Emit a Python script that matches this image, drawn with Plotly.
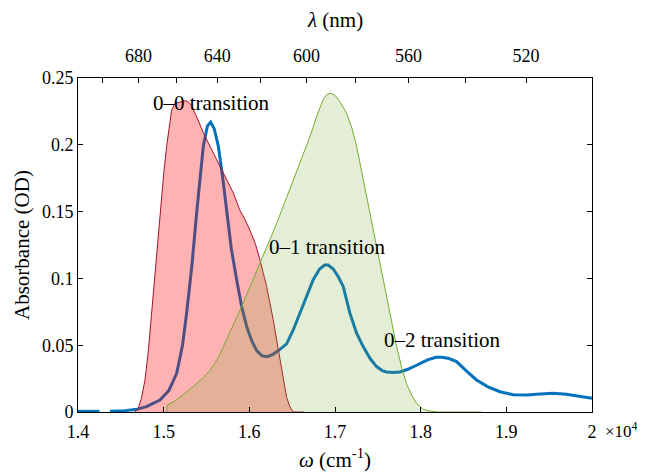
import plotly.graph_objects as go

# Blue absorbance spectrum (wavenumber cm^-1, OD); None marks the small data gap
blue_w = [14000, 14250, None, 14373, 14550, 14685, 14800, 14957, 15060, 15152, 15220, 15268, 15330,
          15385, 15430, 15463, 15510, 15548, 15590, 15638, 15690, 15735, 15790, 15852, 15910,
          15969, 16030, 16085, 16150, 16209, 16270, 16340, 16435, 16510, 16591, 16670, 16746,
          16820, 16880, 16920, 16980, 17040, 17096, 17174, 17252, 17329, 17410, 17485, 17550,
          17602, 17680, 17757, 17850, 17952, 18080, 18180, 18250, 18330, 18419, 18530, 18652,
          18780, 18925, 19080, 19236, 19400, 19547, 19700, 19850, 20000]
blue_a = [0.0005, 0.0005, None, 0.0005, 0.001, 0.002, 0.004, 0.009, 0.016, 0.029, 0.050, 0.074, 0.110,
          0.149, 0.178, 0.199, 0.214, 0.217, 0.212, 0.199, 0.175, 0.149, 0.122, 0.099, 0.079,
          0.064, 0.053, 0.046, 0.042, 0.0414, 0.043, 0.046, 0.051, 0.061, 0.074, 0.087, 0.099,
          0.107, 0.110, 0.110, 0.107, 0.101, 0.094, 0.074, 0.059, 0.049, 0.040, 0.034, 0.031,
          0.030, 0.0295, 0.030, 0.032, 0.035, 0.039, 0.041, 0.041, 0.040, 0.0377, 0.031, 0.024,
          0.019, 0.0152, 0.013, 0.0127, 0.0135, 0.014, 0.0133, 0.012, 0.0103]

# Red filled band (0-0 transition)
red_w = [14665, 14704, 14740, 14782, 14820, 14860, 14910, 14957, 15000, 15035, 15070, 15093,
         15132, 15190, 15250, 15287, 15320, 15385, 15463, 15540, 15618, 15657, 15700, 15735,
         15813, 15890, 15950, 16007, 16070, 16124, 16202, 16279, 16357, 16400, 16435, 16480,
         16513, 16636]
red_a = [0.0, 0.003, 0.010, 0.024, 0.045, 0.074, 0.112, 0.149, 0.178, 0.199, 0.218, 0.226,
         0.231, 0.232, 0.233, 0.232, 0.230, 0.221, 0.209, 0.199, 0.189, 0.185, 0.179, 0.174,
         0.164, 0.151, 0.144, 0.136, 0.126, 0.114, 0.094, 0.069, 0.039, 0.022, 0.011, 0.003,
         0.0, 0.0]

# Green filled band
green_w = [15035, 15040, 15150, 15250, 15346, 15450, 15540, 15640, 15735, 15810, 15890, 16010,
           16124, 16220, 16318, 16420, 16513, 16610, 16707, 16790, 16862, 16910, 16955, 17000,
           17060, 17135, 17200, 17252, 17310, 17369, 17430, 17485, 17545, 17602, 17660, 17719,
           17780, 17835, 17900, 17952, 18030, 18108, 18200, 18711]
green_a = [0.0, 0.005, 0.009, 0.014, 0.019, 0.025, 0.031, 0.041, 0.054, 0.064, 0.076, 0.094,
           0.111, 0.126, 0.141, 0.158, 0.174, 0.190, 0.206, 0.222, 0.234, 0.238, 0.2385, 0.237,
           0.232, 0.2236, 0.212, 0.199, 0.181, 0.161, 0.142, 0.124, 0.105, 0.086, 0.067, 0.049,
           0.033, 0.021, 0.012, 0.0065, 0.002, 0.0007, 0.0, 0.0]

x_ticks = [14000, 15000, 16000, 17000, 18000, 19000, 20000]
x_ticktext = ["1.4", "1.5", "1.6", "1.7", "1.8", "1.9", "2"]
y_ticks = [0, 0.05, 0.1, 0.15, 0.2, 0.25]
y_ticktext = ["0", "0.05", "0.1", "0.15", "0.2", "0.25"]
lam_ticks = [700, 680, 660, 640, 620, 600, 580, 560, 540, 520]
lam_labels = ["", "680", "", "640", "", "600", "", "560", "", "520"]

labels = ["0–0 transition", "0–1 transition", "0–2 transition"]
label_w = [15564, 16917, 18259]
label_a = [0.2313, 0.1235, 0.054]

FONT = "Liberation Serif"

fig = go.Figure()
fig.add_trace(go.Scatter(x=blue_w, y=blue_a, mode="lines",
                         line=dict(color="#0072BD", width=3), connectgaps=False,
                         showlegend=False, hoverinfo="skip"))
fig.add_trace(go.Scatter(x=red_w, y=red_a, mode="lines", fill="tozeroy",
                         fillcolor="rgba(255,0,0,0.3)",
                         line=dict(color="#A2142F", width=1),
                         showlegend=False, hoverinfo="skip"))
fig.add_trace(go.Scatter(x=green_w, y=green_a, mode="lines", fill="tozeroy",
                         fillcolor="rgba(119,172,48,0.2)",
                         line=dict(color="#77AC30", width=1),
                         showlegend=False, hoverinfo="skip"))
# invisible trace to anchor the top wavelength axis
fig.add_trace(go.Scatter(x=[14000, 20000], y=[0, 0], xaxis="x2", mode="lines",
                         line=dict(width=0), opacity=0, showlegend=False, hoverinfo="skip"))

for t, w, a in zip(labels, label_w, label_a):
    fig.add_annotation(x=w, y=a, xref="x", yref="y", text=t, showarrow=False,
                       font=dict(family=FONT, size=21, color="black"))

fig.add_annotation(x=1.0934, y=-0.055, xref="paper", yref="paper", text="×10<sup>4</sup>",
                   showarrow=False, xanchor="right", yanchor="middle",
                   font=dict(family=FONT, size=17, color="black"))
fig.add_annotation(x=0.5, y=-0.138, xref="paper", yref="paper",
                   text="<i>ω</i> (cm<sup>-1</sup>)", showarrow=False,
                   xanchor="center", yanchor="middle",
                   font=dict(family=FONT, size=21, color="black"))
fig.add_annotation(x=0.5, y=1.174, xref="paper", yref="paper",
                   text="<i>λ</i> (nm)", showarrow=False,
                   xanchor="center", yanchor="middle",
                   font=dict(family=FONT, size=21, color="black"))
fig.add_annotation(x=-0.109, y=0.5, xref="paper", yref="paper",
                   text="Absorbance (OD)", showarrow=False, textangle=-90,
                   xanchor="center", yanchor="middle",
                   font=dict(family=FONT, size=21, color="black"))

fig.update_layout(
    width=637, height=464,
    margin=dict(l=70, r=53, t=70, b=60, autoexpand=False),
    paper_bgcolor="white", plot_bgcolor="white",
    font=dict(family=FONT, size=18, color="black"),
    xaxis=dict(range=[14000, 20000], tickvals=x_ticks, ticktext=x_ticktext,
               ticks="inside", ticklen=5, tickcolor="black", showgrid=False,
               zeroline=False, showline=True, linecolor="black", linewidth=1,
               mirror=True, ticklabelstandoff=3,
               tickfont=dict(family=FONT, size=18, color="black")),
    xaxis2=dict(range=[14000, 20000], overlaying="x", side="top", anchor="y",
                tickvals=[1e7 / l for l in lam_ticks], ticktext=lam_labels,
                ticks="inside", ticklen=5, tickcolor="black", showgrid=False,
                zeroline=False, showline=True, linecolor="black", linewidth=1,
                ticklabelstandoff=8,
                tickfont=dict(family=FONT, size=18, color="black")),
    yaxis=dict(range=[0, 0.25], tickvals=y_ticks, ticktext=y_ticktext,
               ticks="inside", ticklen=5, tickcolor="black", showgrid=False,
               zeroline=False, showline=True, linecolor="black", linewidth=1,
               mirror="ticks", tickfont=dict(family=FONT, size=18, color="black")),
)

fig.write_html("out.html")
